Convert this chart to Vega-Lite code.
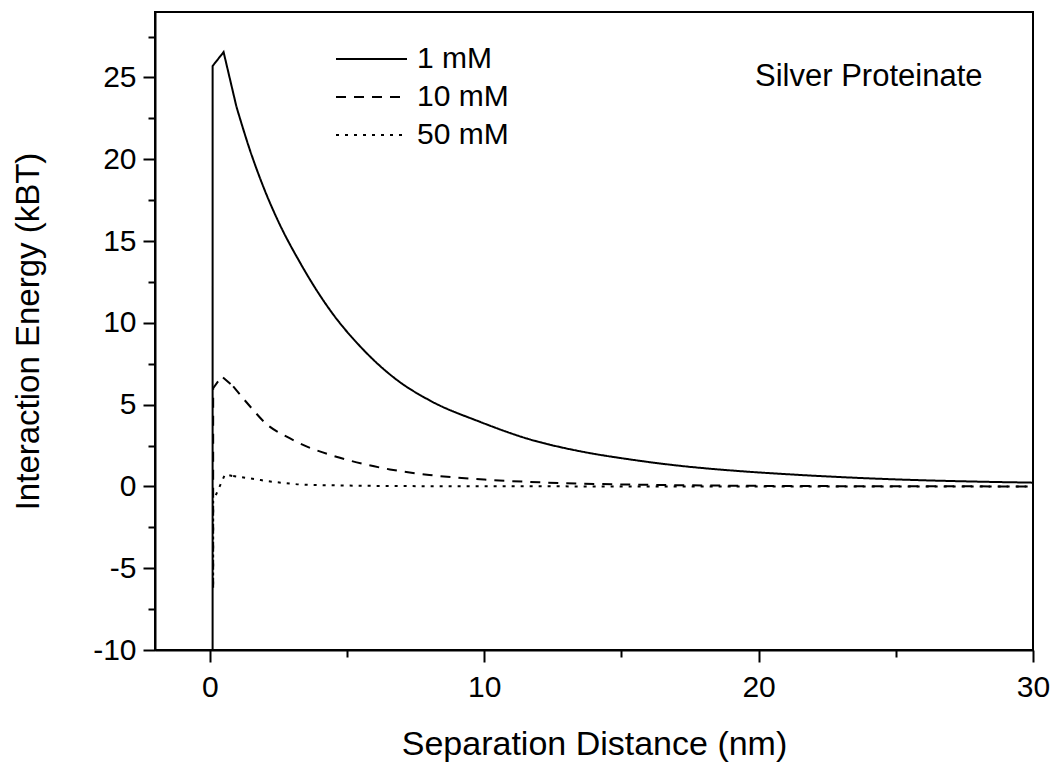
{
  "$schema": "https://vega.github.io/schema/vega-lite/v6.json",
  "width": 878,
  "height": 638,
  "autosize": {"type": "none"},
  "padding": {"left": 155, "top": 12, "right": 23, "bottom": 113},
  "background": "white",
  "config": {
    "font": "Liberation Sans",
    "view": {"stroke": "black", "strokeWidth": 2},
    "axis": {
      "grid": false,
      "domainColor": "black",
      "domainWidth": 2,
      "tickColor": "black",
      "tickWidth": 2,
      "labelColor": "black",
      "titleColor": "black",
      "titleFontWeight": "normal",
      "labelOverlap": false,
      "labelFlush": false
    }
  },
  "data": {
    "values": [
      {"series": "1 mM", "i": 0, "x": 0.099, "y": -40},
      {"series": "1 mM", "i": 1, "x": 0.1, "y": 25.7},
      {"series": "1 mM", "i": 2, "x": 0.5, "y": 26.55},
      {"series": "1 mM", "i": 3, "x": 0.97, "y": 23.2},
      {"series": "1 mM", "i": 4, "x": 1.46, "y": 20.56},
      {"series": "1 mM", "i": 5, "x": 2.0, "y": 18.1},
      {"series": "1 mM", "i": 6, "x": 2.55, "y": 16.0},
      {"series": "1 mM", "i": 7, "x": 3.28, "y": 13.7},
      {"series": "1 mM", "i": 8, "x": 3.83, "y": 12.15},
      {"series": "1 mM", "i": 9, "x": 4.37, "y": 10.8},
      {"series": "1 mM", "i": 10, "x": 5.59, "y": 8.36},
      {"series": "1 mM", "i": 11, "x": 6.8, "y": 6.53},
      {"series": "1 mM", "i": 12, "x": 8.02, "y": 5.25},
      {"series": "1 mM", "i": 13, "x": 9.84, "y": 3.95},
      {"series": "1 mM", "i": 14, "x": 11.67, "y": 2.87},
      {"series": "1 mM", "i": 15, "x": 13.49, "y": 2.15},
      {"series": "1 mM", "i": 16, "x": 15.31, "y": 1.65},
      {"series": "1 mM", "i": 17, "x": 17.13, "y": 1.26},
      {"series": "1 mM", "i": 18, "x": 18.96, "y": 0.98},
      {"series": "1 mM", "i": 19, "x": 21.0, "y": 0.75},
      {"series": "1 mM", "i": 20, "x": 25.15, "y": 0.42},
      {"series": "1 mM", "i": 21, "x": 27.5, "y": 0.31},
      {"series": "1 mM", "i": 22, "x": 30, "y": 0.23},
      {"series": "10 mM", "i": 0, "x": 0.119, "y": -6.2},
      {"series": "10 mM", "i": 1, "x": 0.12, "y": 6.0},
      {"series": "10 mM", "i": 2, "x": 0.43, "y": 6.73},
      {"series": "10 mM", "i": 3, "x": 0.85, "y": 6.12},
      {"series": "10 mM", "i": 4, "x": 1.46, "y": 4.9},
      {"series": "10 mM", "i": 5, "x": 2.07, "y": 3.8},
      {"series": "10 mM", "i": 6, "x": 2.8, "y": 3.04},
      {"series": "10 mM", "i": 7, "x": 3.52, "y": 2.45},
      {"series": "10 mM", "i": 8, "x": 4.74, "y": 1.75},
      {"series": "10 mM", "i": 9, "x": 6.56, "y": 1.04},
      {"series": "10 mM", "i": 10, "x": 8.0, "y": 0.7},
      {"series": "10 mM", "i": 11, "x": 10, "y": 0.42},
      {"series": "10 mM", "i": 12, "x": 12, "y": 0.25},
      {"series": "10 mM", "i": 13, "x": 15, "y": 0.12},
      {"series": "10 mM", "i": 14, "x": 18, "y": 0.06},
      {"series": "10 mM", "i": 15, "x": 22, "y": 0.02},
      {"series": "10 mM", "i": 16, "x": 30, "y": 0.0},
      {"series": "50 mM", "i": 0, "x": 0.119, "y": -6.0},
      {"series": "50 mM", "i": 1, "x": 0.12, "y": -0.9},
      {"series": "50 mM", "i": 2, "x": 0.55, "y": 0.73},
      {"series": "50 mM", "i": 3, "x": 0.85, "y": 0.63},
      {"series": "50 mM", "i": 4, "x": 1.7, "y": 0.43},
      {"series": "50 mM", "i": 5, "x": 2.07, "y": 0.33},
      {"series": "50 mM", "i": 6, "x": 2.9, "y": 0.18},
      {"series": "50 mM", "i": 7, "x": 3.28, "y": 0.12},
      {"series": "50 mM", "i": 8, "x": 4.74, "y": 0.06},
      {"series": "50 mM", "i": 9, "x": 7, "y": 0.02},
      {"series": "50 mM", "i": 10, "x": 10, "y": 0.01},
      {"series": "50 mM", "i": 11, "x": 15, "y": 0.0},
      {"series": "50 mM", "i": 12, "x": 30, "y": 0.0}
    ]
  },
  "layer": [
    {
      "encoding": {
        "x": {
          "field": "x",
          "type": "quantitative",
          "scale": {"domain": [-2, 30], "nice": false, "zero": false},
          "axis": {
            "title": "Separation Distance (nm)",
            "values": [0, 5, 10, 15, 20, 25, 30],
            "labelExpr": "datum.value % 10 === 0 ? toString(datum.value) : ''",
            "tickSize": {"condition": {"test": "datum.value % 10 === 0", "value": 12}, "value": 7},
            "labelFontSize": 30,
            "labelPadding": 10,
            "titleFontSize": 34,
            "titlePadding": 25
          }
        },
        "y": {
          "field": "y",
          "type": "quantitative",
          "scale": {"domain": [-10, 29], "nice": false, "zero": false},
          "axis": {
            "title": "Interaction Energy (kBT)",
            "values": [-10, -7.5, -5, -2.5, 0, 2.5, 5, 7.5, 10, 12.5, 15, 17.5, 20, 22.5, 25, 27.5],
            "labelExpr": "datum.value % 5 === 0 ? toString(datum.value) : ''",
            "tickSize": {"condition": {"test": "datum.value % 5 === 0", "value": 12}, "value": 7},
            "labelFontSize": 30,
            "labelPadding": 7,
            "titleFontSize": 33,
            "titlePadding": 47
          }
        },
        "strokeDash": {
          "field": "series",
          "type": "nominal",
          "scale": {"domain": ["1 mM", "10 mM", "50 mM"], "range": [[1, 0], [10, 8], [3, 6]]},
          "legend": {
            "orient": "none",
            "legendX": 180,
            "legendY": 32,
            "title": null,
            "padding": 0,
            "symbolType": "stroke",
            "symbolSize": 5041,
            "symbolStrokeWidth": 2,
            "symbolStrokeColor": "black",
            "labelFontSize": 30,
            "labelColor": "black",
            "labelOffset": 9,
            "clipHeight": 30,
            "rowPadding": 8
          }
        },
        "order": {"field": "i", "type": "quantitative"}
      },
      "layer": [
        {
          "transform": [{"filter": "datum.i <= 3"}],
          "mark": {"type": "line", "clip": true, "color": "black", "strokeWidth": 2, "interpolate": "linear"}
        },
        {
          "transform": [{"filter": "datum.i >= 3"}],
          "mark": {"type": "line", "clip": true, "color": "black", "strokeWidth": 2, "interpolate": "monotone"}
        }
      ]
    },
    {
      "data": {"values": [{"x": 19.87, "y": 24.47, "label": "Silver Proteinate"}]},
      "mark": {"type": "text", "align": "left", "baseline": "alphabetic", "fontSize": 31, "color": "black"},
      "encoding": {
        "x": {"field": "x", "type": "quantitative", "title": "Separation Distance (nm)"},
        "y": {"field": "y", "type": "quantitative", "title": "Interaction Energy (kBT)"},
        "text": {"field": "label"}
      }
    }
  ]
}
